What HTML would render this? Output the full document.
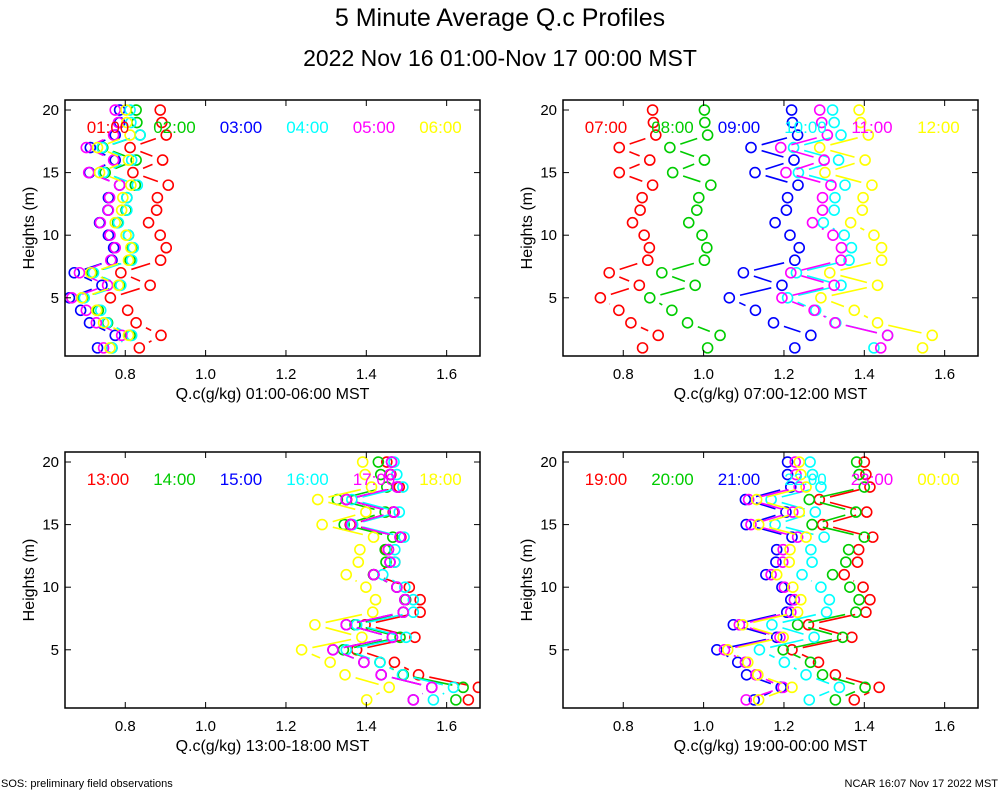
<!DOCTYPE html>
<html><head><meta charset="utf-8"><style>
html,body{margin:0;padding:0;background:#fff;}
svg{display:block;font-family:"Liberation Sans",sans-serif;}
</style></head><body>
<svg id="chart" width="1000" height="800" viewBox="0 0 1000 800">
<text x="500" y="26" text-anchor="middle" font-size="25">5 Minute Average Q.c Profiles</text>
<text x="500" y="66" text-anchor="middle" font-size="23">2022 Nov 16 01:00-Nov 17 00:00 MST</text>
<text x="1" y="787" font-size="11">SOS: preliminary field observations</text>
<text x="998" y="787" font-size="11" text-anchor="end">NCAR 16:07 Nov 17 2022 MST</text>
</svg>
<script>
const heights=[20,19,18,17,16,15,14,13,12,11,10,9,8,7,6,5,4,3,2,1];
const xTicks=[0.8,1.0,1.2,1.4,1.6];
const xTickLabels=["0.8","1.0","1.2","1.4","1.6"];
const yTicks=[5,10,15,20];
const colors=["#ff0000","#00cc00","#0000ff","#00ffff","#ff00ff","#ffff00"];
const p1Labels=["01:00","02:00","03:00","04:00","05:00","06:00"];
const p2Labels=["07:00","08:00","09:00","10:00","11:00","12:00"];
const p3Labels=["13:00","14:00","15:00","16:00","17:00","18:00"];
const p4Labels=["19:00","20:00","21:00","22:00","23:00","00:00"];
const p1Red=[.887,.891,.902,.812,.893,.819,.907,.880,.878,.858,.887,.902,.888,.789,.862,.763,.806,.827,.889,.835];
const p1Green=[.827,.829,.837,.744,.827,.750,.825,.804,.802,.781,.808,.816,.812,.717,.786,.694,.733,.756,.812,.767];
const p1Blue=[.786,.786,.775,.713,.775,.711,.786,.758,.757,.736,.758,.771,.767,.673,.742,.661,.689,.711,.775,.731];
const p1Cyan=[.812,.814,.837,.742,.816,.746,.830,.804,.804,.783,.808,.820,.816,.721,.789,.698,.739,.754,.816,.767];
const p1Magenta=[.775,.783,.771,.703,.771,.709,.786,.761,.758,.738,.762,.775,.764,.686,.756,.667,.703,.728,.791,.746];
const p1Yellow=[.802,.804,.812,.731,.808,.736,.814,.794,.791,.775,.802,.814,.808,.714,.783,.692,.729,.746,.808,.762];
const p2Red=[.873,.875,.881,.790,.866,.790,.873,.847,.842,.823,.852,.865,.861,.765,.840,.743,.789,.819,.887,.848];
const p2Green=[1.002,1.003,1.010,.916,1.002,.923,1.018,.988,.983,.963,.996,1.008,1.002,.896,.979,.866,.921,.960,1.041,1.010];
const p2Blue=[1.219,1.221,1.234,1.118,1.225,1.128,1.235,1.209,1.206,1.178,1.215,1.238,1.227,1.099,1.195,1.064,1.129,1.174,1.267,1.227];
const p2Cyan=[1.321,1.325,1.342,1.224,1.336,1.236,1.352,1.327,1.325,1.298,1.350,1.368,1.362,1.231,1.342,1.209,1.279,1.329,1.458,1.424];
const p2Magenta=[1.289,1.294,1.308,1.192,1.300,1.205,1.317,1.296,1.296,1.271,1.322,1.343,1.342,1.217,1.325,1.195,1.275,1.327,1.458,1.441];
const p2Yellow=[1.387,1.391,1.410,1.289,1.402,1.302,1.419,1.397,1.395,1.366,1.424,1.443,1.443,1.314,1.433,1.292,1.375,1.433,1.569,1.545];
const p3Red=[1.451,1.461,1.482,1.351,1.467,1.360,1.486,1.449,1.471,1.418,1.507,1.534,1.534,1.397,1.521,1.376,1.470,1.530,1.679,1.654];
const p3Green=[1.430,1.436,1.451,1.328,1.447,1.345,1.466,1.447,1.449,1.418,1.476,1.498,1.492,1.372,1.484,1.343,1.434,1.492,1.641,1.623];
const p3Blue=[1.463,1.459,1.477,1.350,1.469,1.362,1.484,1.455,1.459,1.419,1.476,1.496,1.492,1.350,1.465,1.317,1.394,1.437,1.563,1.517];
const p3Cyan=[1.469,1.476,1.491,1.364,1.482,1.366,1.494,1.471,1.471,1.441,1.496,1.517,1.517,1.376,1.499,1.350,1.434,1.490,1.617,1.567];
const p3Magenta=[1.463,1.459,1.477,1.350,1.469,1.362,1.484,1.455,1.459,1.419,1.476,1.496,1.492,1.350,1.465,1.317,1.394,1.437,1.563,1.517];
const p3Yellow=[1.391,1.397,1.413,1.279,1.399,1.290,1.418,1.384,1.380,1.350,1.399,1.423,1.416,1.272,1.389,1.239,1.310,1.347,1.457,1.401];
const p4Red=[1.400,1.404,1.414,1.288,1.406,1.296,1.421,1.386,1.383,1.350,1.397,1.414,1.404,1.261,1.369,1.220,1.286,1.328,1.437,1.375];
const p4Green=[1.381,1.387,1.400,1.263,1.379,1.270,1.400,1.361,1.354,1.321,1.364,1.387,1.379,1.234,1.346,1.198,1.266,1.296,1.402,1.328];
const p4Blue=[1.209,1.209,1.217,1.104,1.205,1.106,1.220,1.182,1.180,1.155,1.195,1.217,1.207,1.074,1.182,1.033,1.085,1.107,1.193,1.126];
const p4Cyan=[1.265,1.271,1.292,1.168,1.278,1.178,1.300,1.267,1.270,1.245,1.292,1.313,1.306,1.170,1.275,1.139,1.201,1.255,1.338,1.263];
const p4Magenta=[1.228,1.230,1.238,1.112,1.222,1.118,1.234,1.198,1.197,1.168,1.201,1.226,1.217,1.089,1.190,1.052,1.104,1.130,1.198,1.106];
const p4Yellow=[1.238,1.242,1.255,1.132,1.238,1.137,1.255,1.215,1.213,1.182,1.222,1.242,1.234,1.097,1.198,1.060,1.110,1.135,1.220,1.137];

const panels=[
 {name:"panel-01-06",left:65,top:100,series:[p1Red,p1Green,p1Blue,p1Cyan,p1Magenta,p1Yellow],labels:p1Labels,title:"Q.c(g/kg) 01:00-06:00 MST"},
 {name:"panel-07-12",left:563,top:100,series:[p2Red,p2Green,p2Blue,p2Cyan,p2Magenta,p2Yellow],labels:p2Labels,title:"Q.c(g/kg) 07:00-12:00 MST"},
 {name:"panel-13-18",left:65,top:452,series:[p3Red,p3Green,p3Blue,p3Cyan,p3Magenta,p3Yellow],labels:p3Labels,title:"Q.c(g/kg) 13:00-18:00 MST"},
 {name:"panel-19-00",left:563,top:452,series:[p4Red,p4Green,p4Blue,p4Cyan,p4Magenta,p4Yellow],labels:p4Labels,title:"Q.c(g/kg) 19:00-00:00 MST"}
];
const W=415,H=256,XMIN=0.65,XMAX=1.683,YMIN=0.35,YMAX=20.8,R=5;
const NS="http://www.w3.org/2000/svg";
const svg=document.getElementById('chart');
function mk(tag,attrs,parent){const e=document.createElementNS(NS,tag);for(const k in attrs)e.setAttribute(k,attrs[k]);(parent||svg).appendChild(e);return e;}
panels.forEach(p=>{
  const g=mk('g',{});
  
  
  const sx=v=>p.left+(v-XMIN)/(XMAX-XMIN)*W;
  const sy=h=>p.top+(YMAX-h)/(YMAX-YMIN)*H;
  const cid='clip-'+p.name;
  const cp=mk('clipPath',{id:cid},g);mk('rect',{x:p.left,y:p.top,width:W,height:H},cp);
  const dg=mk('g',{'clip-path':'url(#'+cid+')'},g);
  p.series.forEach((vals,si)=>{
    const sg=mk('g',{},dg);
    
    
    for(let i=0;i<vals.length-1;i++){
      const x1=sx(vals[i]),y1=sy(heights[i]),x2=sx(vals[i+1]),y2=sy(heights[i+1]);
      const dx=x2-x1,dy=y2-y1,L=Math.hypot(dx,dy),g2=R+6;
      if(L>2*g2){const ux=dx/L,uy=dy/L;
        const ln=mk('line',{x1:x1+ux*g2,y1:y1+uy*g2,x2:x2-ux*g2,y2:y2-uy*g2,stroke:colors[si],'stroke-width':1.6},sg);
        
        }
    }
    vals.forEach((v,i)=>{
      const c=mk('circle',{cx:sx(v),cy:sy(heights[i]),r:R,fill:'none',stroke:colors[si],'stroke-width':1.6},sg);
      
      
    });
  });
  p.labels.forEach((t,i)=>{
    const tx=mk('text',{x:p.left+43+i*66.5,y:p.top+33,'text-anchor':'middle','font-size':17,fill:colors[i]},g);
    tx.textContent=t;
    
    
  });
  const fr=mk('rect',{x:p.left,y:p.top,width:W,height:H,fill:'none',stroke:'#000','stroke-width':1.5},g);
  
  
  xTicks.forEach((v,i)=>{
    const x=sx(v);
    mk('line',{x1:x,y1:p.top+H,x2:x,y2:p.top+H-6,stroke:'#000'},g);
    mk('line',{x1:x,y1:p.top,x2:x,y2:p.top+6,stroke:'#000'},g);
    const tl=mk('text',{x:x,y:p.top+H+23,'text-anchor':'middle','font-size':15},g);
    tl.textContent=xTickLabels[i];
    
    
  });
  yTicks.forEach(v=>{
    const y=sy(v);
    mk('line',{x1:p.left,y1:y,x2:p.left+6,y2:y,stroke:'#000'},g);
    mk('line',{x1:p.left+W,y1:y,x2:p.left+W-6,y2:y,stroke:'#000'},g);
    const tl=mk('text',{x:p.left-6,y:y+5,'text-anchor':'end','font-size':15},g);
    tl.textContent=String(v);
    
    
  });
  const xt=mk('text',{x:p.left+W/2,y:p.top+H+43,'text-anchor':'middle','font-size':16},g);
  xt.textContent=p.title;
  
  
  const cy=p.top+H/2;
  const yt=mk('text',{x:p.left-31,y:cy,'text-anchor':'middle','font-size':16,transform:'rotate(-90 '+(p.left-31)+' '+cy+')'},g);
  yt.textContent='Heights (m)';
  
  
});
</script>
</body></html>
